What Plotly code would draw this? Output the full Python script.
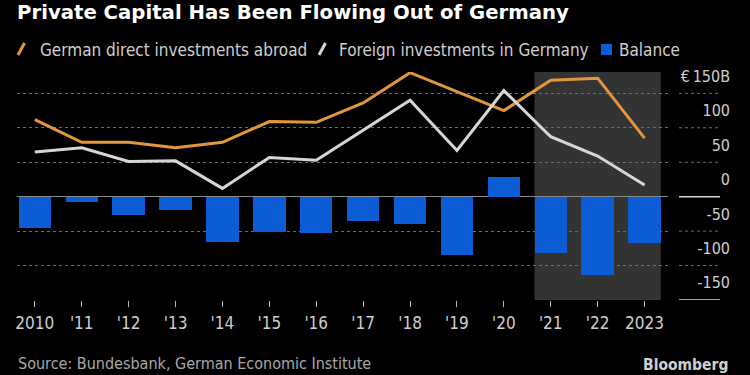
import plotly.graph_objects as go

# ---------------- data ----------------
years = [2010, 2011, 2012, 2013, 2014, 2015, 2016, 2017, 2018, 2019, 2020, 2021, 2022, 2023]
year_labels = ["2010", "'11", "'12", "'13", "'14", "'15", "'16", "'17", "'18", "'19", "'20", "'21", "'22", "2023"]
german_abroad = [112, 79, 79, 71, 79, 109, 108, 136, 180, 152, 125, 169, 172, 85]
foreign_in_germany = [65, 71, 51, 52, 12, 57, 53, 97, 140, 67, 154, 87, 59, 17]
balance = [-45, -7, -26, -19, -66, -51, -53, -36, -39, -85, 28, -82, -113, -67]
y_ticks = [-150, -100, -50, 0, 50, 100, 150]
y_tick_text = ["-150", "-100", "-50", "0", "50", "100", "€\u2009150B"]
highlight_years = years[-3:]

# ---------------- style ----------------
FONT = "DejaVu Sans Condensed, Liberation Sans Narrow, Open Sans, sans-serif"
TITLE_FONT = "DejaVu Sans, Open Sans, sans-serif"
ORANGE = "#E3963C"
LIGHT = "#D6D6D6"
BLUE = "#0B5CD5"
SHADE = "#333333"
TXT = "#CFCFCF"
GRID = "#6E6E6E"

W, H = 750, 375
ML, MR, MT, MB = 17, 17, 72, 75
PLOT_RIGHT = 668  # px where the data area ends
paper_w = W - ML - MR
paper_h = H - MT - MB


def px(x):
    return (x - ML) / paper_w


def py(y):
    return (H - MB - y) / paper_h


fig = go.Figure()

fig.add_trace(go.Bar(
    x=years, y=balance, name="Balance", marker=dict(color=BLUE, line=dict(width=0)),
    width=0.69, showlegend=False,
))
fig.add_trace(go.Scatter(
    x=years, y=german_abroad, name="German direct investments abroad", mode="lines",
    line=dict(color=ORANGE, width=3), showlegend=False,
))
fig.add_trace(go.Scatter(
    x=years, y=foreign_in_germany, name="Foreign investments in Germany", mode="lines",
    line=dict(color=LIGHT, width=3), showlegend=False,
))

shapes = []
# highlighted period
shapes.append(dict(type="rect", xref="x", yref="paper",
                   x0=highlight_years[0] - 0.345, x1=highlight_years[-1] + 0.345,
                   y0=0, y1=1, fillcolor=SHADE, line=dict(width=0), layer="below"))
# grid continuation under the value labels
for v in y_ticks:
    solid = v in (0, y_ticks[0])
    shapes.append(dict(type="line", xref="paper", yref="y", x0=px(679), x1=px(720), y0=v, y1=v,
                       line=dict(color=LIGHT if solid else GRID, width=1.5 if solid else 1,
                                 dash="solid" if solid else "dot")))
# legend symbols
shapes.append(dict(type="line", xref="paper", yref="paper", x0=px(18), y0=py(55), x1=px(24.5), y1=py(43),
                   line=dict(color=ORANGE, width=3)))
shapes.append(dict(type="line", xref="paper", yref="paper", x0=px(319), y0=py(55), x1=px(325.5), y1=py(43),
                   line=dict(color=LIGHT, width=3)))
shapes.append(dict(type="rect", xref="paper", yref="paper", x0=px(601), y0=py(55), x1=px(612), y1=py(44),
                   fillcolor=BLUE, line=dict(width=0)))

annotations = [
    dict(text="German direct investments abroad", x=px(38), y=py(49.5)),
    dict(text="Foreign investments in Germany", x=px(337), y=py(49.5)),
    dict(text="Balance", x=px(617), y=py(49.5)),
]
for a in annotations:
    a.update(xref="paper", yref="paper", xanchor="left", yanchor="middle", showarrow=False,
             font=dict(family=FONT, size=17, color=TXT))
annotations.append(dict(text="Source: Bundesbank, German Economic Institute", x=px(16), y=py(352),
                        xref="paper", yref="paper", xanchor="left", yanchor="top", showarrow=False,
                        font=dict(family=FONT, size=16, color="#A8A8A8")))
annotations.append(dict(text="<b>Bloomberg</b>", x=px(730), y=py(354),
                        xref="paper", yref="paper", xanchor="right", yanchor="top", showarrow=False,
                        font=dict(family=FONT, size=15.5, color=TXT)))

fig.update_layout(
    width=W, height=H,
    margin=dict(l=ML, r=MR, t=MT, b=MB, pad=0),
    paper_bgcolor="#000000", plot_bgcolor="rgba(0,0,0,0)",
    font=dict(family=FONT, color=TXT),
    title=dict(text="Private Capital Has Been Flowing Out of Germany",
               x=ML / W, xanchor="left", xref="container",
               y=1 - 12.5 / H, yanchor="middle", yref="container",
               font=dict(family=TITLE_FONT, size=19.7, color="#FFFFFF", weight="bold")),
    showlegend=False,
    bargap=0,
    shapes=shapes,
    annotations=annotations,
    xaxis=dict(
        domain=[0, px(PLOT_RIGHT)],
        range=[2009.62, 2023.5],
        tickmode="array", tickvals=years, ticktext=year_labels,
        ticks="outside", ticklen=6, tickwidth=1, tickcolor="#BBBBBB",
        tickfont=dict(family=FONT, size=17, color=TXT),
        ticklabelstandoff=2,
        showgrid=False, zeroline=False,
        showline=True, linecolor="#000000", linewidth=1,
        fixedrange=True,
    ),
    yaxis=dict(
        range=[-150, 181],
        anchor="free", position=1, side="right",
        tickmode="array", tickvals=y_ticks, ticktext=y_tick_text,
        ticklabelposition="inside top", ticklabeloverflow="allow",
        ticklabelshift=-6,
        ticks="", tickfont=dict(family=FONT, size=16, color=TXT),
        showgrid=True, gridcolor=GRID, gridwidth=1, griddash="dot",
        zeroline=True, zerolinecolor="#8A8A8A", zerolinewidth=1,
        showline=False, fixedrange=True,
    ),
)

fig.write_html("out.html", config={"displayModeBar": False},
               post_script="document.body.style.margin='0';document.body.style.overflow='hidden';")
